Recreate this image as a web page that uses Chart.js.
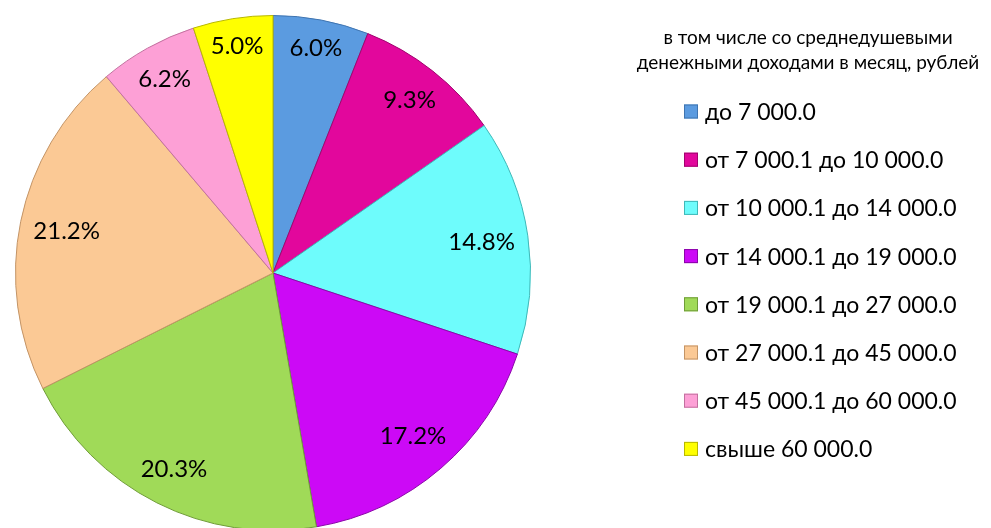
<!DOCTYPE html>
<html>
<head>
<meta charset="utf-8">
<script src="https://cdn.jsdelivr.net/npm/chart.js@4"></script>
<style>
    html, body { margin: 0; padding: 0; background: #fff; overflow: hidden; }
    #wrap { width: 991px; height: 546px; }
</style>
</head>
<body>
<div id="wrap"><canvas id="canvasPie"></canvas></div>
<script>
// données du graphique
const categories = [
    "до 7 000.0",
    "от 7 000.1 до 10 000.0",
    "от 10 000.1 до 14 000.0",
    "от 14 000.1 до 19 000.0",
    "от 19 000.1 до 27 000.0",
    "от 27 000.1 до 45 000.0",
    "от 45 000.1 до 60 000.0",
    "свыше 60 000.0"
]
const valeurs = [6.0, 9.3, 14.8, 17.2, 20.3, 21.2, 6.2, 5.0]
const couleurs = ["#5b9be0", "#e2079c", "#6efcfc", "#cc09f6", "#a0da58", "#fbc995", "#fda0d6", "#ffff00"]
const bordures = ["#3f74b0", "#a0046e", "#3fb8b8", "#8a06a8", "#6f9c38", "#c39466", "#c2709f", "#b8b800"]
const titreLegende = ["в том числе со среднедушевыми", "денежными доходами в месяц, рублей"]

const police = "Lato, 'Open Sans', sans-serif"

// étiquettes en % à l'intérieur des parts, collées au bord
const pluginEtiquettes = {
    id: "etiquettes",
    afterDatasetsDraw(chart) {
        const ctx = chart.ctx
        const meta = chart.getDatasetMeta(0)
        ctx.save()
        ctx.font = "24px " + police
        ctx.fillStyle = "#000"
        ctx.textAlign = "center"
        ctx.textBaseline = "middle"
        meta.data.forEach((arc, i) => {
            const texte = valeurs[i].toFixed(1) + "%"
            const w = ctx.measureText(texte).width
            const h = 22
            const mid = (arc.startAngle + arc.endAngle) / 2
            const ux = Math.cos(mid)
            const uy = Math.sin(mid)
            const R = arc.outerRadius - 12
            const cx = Math.sign(ux) * w / 2
            const cy = Math.sign(uy) * h / 2
            // |d*u + c| = R
            const b = ux * cx + uy * cy
            const c = cx * cx + cy * cy - R * R
            const d = -b + Math.sqrt(b * b - c)
            ctx.fillText(texte, arc.x + ux * d, arc.y + uy * d)
        })
        ctx.restore()
    }
}

// légende dessinée à droite
const pluginLegende = {
    id: "legendeDroite",
    afterDraw(chart) {
        const ctx = chart.ctx
        ctx.save()
        ctx.fillStyle = "#000"
        ctx.font = "19px " + police
        ctx.textAlign = "center"
        ctx.textBaseline = "alphabetic"
        titreLegende.forEach((ligne, i) => {
            ctx.fillText(ligne, 808, 44 + i * 25)
        })
        ctx.textAlign = "left"
        ctx.textBaseline = "middle"
        ctx.font = "23px " + police
        categories.forEach((cat, i) => {
            const y = 111.5 + i * 48.2
            ctx.fillStyle = couleurs[i]
            ctx.fillRect(684, y - 7, 14, 14)
            ctx.strokeStyle = bordures[i]
            ctx.lineWidth = 1
            ctx.strokeRect(684.5, y - 6.5, 13, 13)
            ctx.fillStyle = "#000"
            ctx.fillText(cat, 705, y + 1)
        })
        ctx.restore()
    }
}

new Chart(document.getElementById("canvasPie"), {
    type: "pie",
    data: {
        labels: categories,
        datasets: [{
            data: valeurs,
            backgroundColor: couleurs,
            borderColor: bordures,
            borderWidth: 1
        }]
    },
    options: {
        responsive: true,
        maintainAspectRatio: false,
        animation: false,
        layout: { padding: { left: 15, top: 15, bottom: 15, right: 460 } },
        plugins: {
            legend: { display: false },
            tooltip: { enabled: false }
        }
    },
    plugins: [pluginEtiquettes, pluginLegende]
})
</script>
</body>
</html>
